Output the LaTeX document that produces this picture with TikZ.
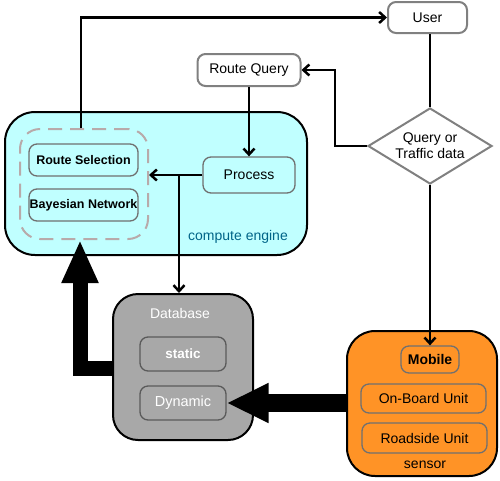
\documentclass[tikz,border=0pt]{standalone}
\usepackage{fontspec}
\setmainfont{Liberation Sans}
\usepackage{tikz}
\usetikzlibrary{arrows.meta,shapes.geometric}
\definecolor{enginecol}{RGB}{192,255,255}
\definecolor{enginetxt}{RGB}{0,100,136}
\definecolor{dbcol}{RGB}{168,168,168}
\definecolor{sensorcol}{RGB}{255,147,38}
\definecolor{framecol}{RGB}{112,112,112}
\definecolor{dashcol}{RGB}{184,170,170}
\tikzstyle{txt} = [font=\fontsize{14}{16}\selectfont]
\tikzstyle{boldtxt} = [font=\fontsize{12.5}{14}\selectfont\bfseries]
\tikzstyle{group} = [draw=black,line width=2pt,inner sep=0]
\tikzstyle{part} = [draw=framecol,line width=1.3pt,rounded corners=8pt,inner sep=0]
\tikzstyle{outer} = [draw=gray,line width=2pt,fill=white,rounded corners=8pt,inner sep=0]

\begin{document}
\begin{tikzpicture}[x=1pt,y=-1pt,
    post/.style={-{Straight Barb[length=6pt,width=11pt]},line width=2.5pt},
    fat/.style={-{Triangle[length=42pt,width=37pt]},line width=18pt}]
    \useasboundingbox (0,0) rectangle (500,480);

    % compute engine
    \node[group,fill=enginecol,rounded corners=30pt,minimum width=302,minimum height=143] (engine) at (156,183.5) {};
    \node[txt,text=enginetxt] (enginelbl) at (238,237) {compute engine};
    \node[draw=dashcol,line width=2pt,dash pattern=on 14pt off 8pt,rounded corners=20pt,
        minimum width=128,minimum height=110,inner sep=0] (sel) at (84,184) {};
    \node[part,boldtxt,minimum width=109,minimum height=32] (rs) at (83.5,160) {Route Selection};
    \node[part,boldtxt,minimum width=109,minimum height=32] (bn) at (83.5,205) {Bayesian Network};
    \node[part,txt,minimum width=92,minimum height=36] (proc) at (249,175) {Process};

    % top row
    \node[outer,txt,minimum width=79,minimum height=31] (user) at (427.5,17.5) {User};
    \node[outer,txt,minimum width=103,minimum height=32] (rq) at (249,70) {Route Query};
    \node[diamond,aspect=1.63,draw=gray,line width=2pt,fill=white,txt,align=center,inner sep=0,
        minimum width=124,minimum height=76] (query) at (430,146) {Query or\\Traffic data};

    % database
    \node[group,fill=dbcol,rounded corners=25pt,minimum width=140,minimum height=146] (db) at (183,367) {};
    \node[txt,text=white] (dblbl) at (180,313) {Database};
    \node[part,draw=framecol!80!black,font=\fontsize{13.5}{15}\selectfont\bfseries,text=white,
        minimum width=86,minimum height=34] (stat) at (183,354) {static};
    \node[part,draw=framecol!80!black,font=\fontsize{14.5}{16}\selectfont,text=white,
        minimum width=86,minimum height=34] (dyn) at (183,403) {Dynamic};

    % sensor
    \node[group,fill=sensorcol,rounded corners=28pt,minimum width=150,minimum height=145] (sensor) at (422,403.5) {};
    \node[part,font=\fontsize{14}{16}\selectfont\bfseries,minimum width=58,minimum height=27] (mob) at (430,359.5) {Mobile};
    \node[part,txt,minimum width=125,minimum height=29] (obu) at (423.5,398.5) {On-Board Unit};
    \node[part,txt,minimum width=125,minimum height=30] (rsu) at (424.5,438) {Roadside Unit};
    \node[txt] (sensorlbl) at (425,465) {sensor};

    % connectors
    \coordinate (split) at (179,176);
    \draw[post] ([xshift=-3pt]sel.north) |- (user.west);
    \draw[line width=2.5pt] (user.south -| query.north) -- (query.north);
    \draw[post] (query.west) -- ++(-32,0) |- (rq.east);
    \draw[post] (rq.south) -- (proc.north);
    \draw[post] (proc.west) -- (proc.west -| sel.east);
    \draw[post] (split) -- (split |- db.north);
    \draw[post] (query.south) -- (mob.north);
    \draw[fat] (sensor.west |- dyn) -- (dyn.east);
    \draw[fat,line width=15pt,-{Triangle[length=43pt,width=34pt]}] (db.west |- 0,368) -| ([xshift=-4pt]sel.south);
\end{tikzpicture}
\end{document}
